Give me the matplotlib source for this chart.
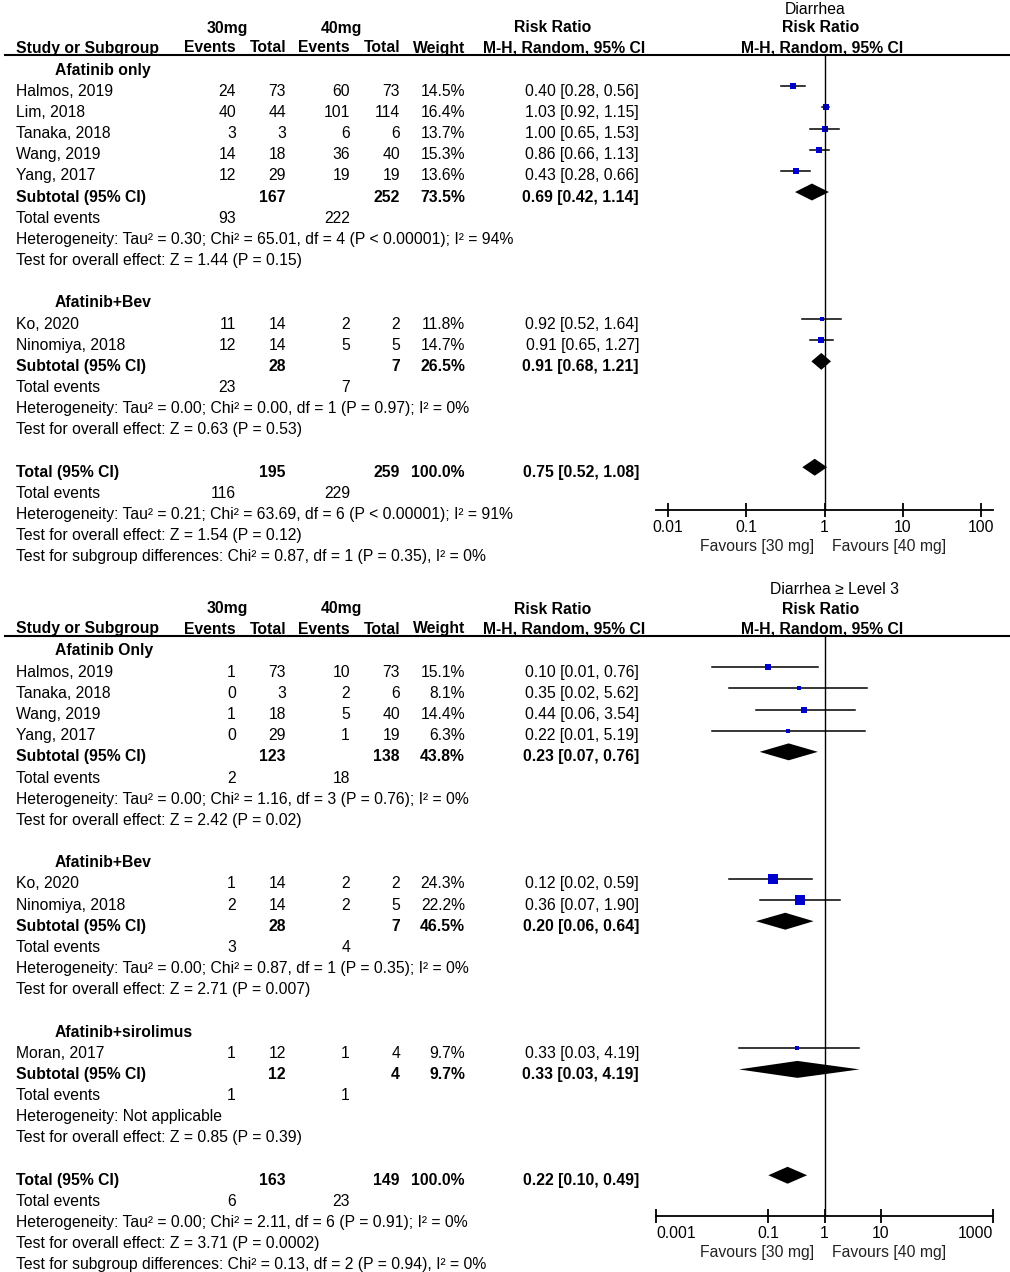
import matplotlib
matplotlib.use("Agg")
import matplotlib.pyplot as plt
from matplotlib.ticker import FixedLocator, NullLocator

plt.rcParams["font.family"] = ["Liberation Sans", "DejaVu Sans"]
plt.rcParams["font.size"] = 11.35

W, H = 1010, 1272
ROW = 21.17
BLUE = "#0000cc"

# Diarrhea (all grades)
d1_title = "Diarrhea"
d1_groups = ["Afatinib only", "Afatinib+Bev"]
d1_study = ["Halmos, 2019", "Lim, 2018", "Tanaka, 2018", "Wang, 2019", "Yang, 2017",
            "Ko, 2020", "Ninomiya, 2018"]
d1_group = [0, 0, 0, 0, 0, 1, 1]
d1_ev30 = [24, 40, 3, 14, 12, 11, 12]
d1_n30 = [73, 44, 3, 18, 29, 14, 14]
d1_ev40 = [60, 101, 6, 36, 19, 2, 5]
d1_n40 = [73, 114, 6, 40, 19, 2, 5]
d1_weight = [14.5, 16.4, 13.7, 15.3, 13.6, 11.8, 14.7]
d1_rr = [0.40, 1.03, 1.00, 0.86, 0.43, 0.92, 0.91]
d1_lo = [0.28, 0.92, 0.65, 0.66, 0.28, 0.52, 0.65]
d1_hi = [0.56, 1.15, 1.53, 1.13, 0.66, 1.64, 1.27]
d1_sub_n30 = [167, 28]
d1_sub_n40 = [252, 7]
d1_sub_w = [73.5, 26.5]
d1_sub_rr = [0.69, 0.91]
d1_sub_lo = [0.42, 0.68]
d1_sub_hi = [1.14, 1.21]
d1_sub_ev30 = [93, 23]
d1_sub_ev40 = [222, 7]
d1_sub_het = ["Heterogeneity: Tau² = 0.30; Chi² = 65.01, df = 4 (P < 0.00001); I² = 94%",
              "Heterogeneity: Tau² = 0.00; Chi² = 0.00, df = 1 (P = 0.97); I² = 0%"]
d1_sub_z = ["Test for overall effect: Z = 1.44 (P = 0.15)",
            "Test for overall effect: Z = 0.63 (P = 0.53)"]
d1_tot = [195, 259, 0.75, 0.52, 1.08, 116, 229]
d1_tot_text = ["Heterogeneity: Tau² = 0.21; Chi² = 63.69, df = 6 (P < 0.00001); I² = 91%",
               "Test for overall effect: Z = 1.54 (P = 0.12)",
               "Test for subgroup differences: Chi² = 0.87, df = 1 (P = 0.35), I² = 0%"]
d1_ticks = [0.01, 0.1, 1, 10, 100]
d1_ticklabels = ["0.01", "0.1", "1", "10", "100"]

# Diarrhea >= level 3
d2_title = "Diarrhea ≥ Level 3"
d2_groups = ["Afatinib Only", "Afatinib+Bev", "Afatinib+sirolimus"]
d2_study = ["Halmos, 2019", "Tanaka, 2018", "Wang, 2019", "Yang, 2017",
            "Ko, 2020", "Ninomiya, 2018", "Moran, 2017"]
d2_group = [0, 0, 0, 0, 1, 1, 2]
d2_ev30 = [1, 0, 1, 0, 1, 2, 1]
d2_n30 = [73, 3, 18, 29, 14, 14, 12]
d2_ev40 = [10, 2, 5, 1, 2, 2, 1]
d2_n40 = [73, 6, 40, 19, 2, 5, 4]
d2_weight = [15.1, 8.1, 14.4, 6.3, 24.3, 22.2, 9.7]
d2_rr = [0.10, 0.35, 0.44, 0.22, 0.12, 0.36, 0.33]
d2_lo = [0.01, 0.02, 0.06, 0.01, 0.02, 0.07, 0.03]
d2_hi = [0.76, 5.62, 3.54, 5.19, 0.59, 1.90, 4.19]
d2_sub_n30 = [123, 28, 12]
d2_sub_n40 = [138, 7, 4]
d2_sub_w = [43.8, 46.5, 9.7]
d2_sub_rr = [0.23, 0.20, 0.33]
d2_sub_lo = [0.07, 0.06, 0.03]
d2_sub_hi = [0.76, 0.64, 4.19]
d2_sub_ev30 = [2, 3, 1]
d2_sub_ev40 = [18, 4, 1]
d2_sub_het = ["Heterogeneity: Tau² = 0.00; Chi² = 1.16, df = 3 (P = 0.76); I² = 0%",
              "Heterogeneity: Tau² = 0.00; Chi² = 0.87, df = 1 (P = 0.35); I² = 0%",
              "Heterogeneity: Not applicable"]
d2_sub_z = ["Test for overall effect: Z = 2.42 (P = 0.02)",
            "Test for overall effect: Z = 2.71 (P = 0.007)",
            "Test for overall effect: Z = 0.85 (P = 0.39)"]
d2_tot = [163, 149, 0.22, 0.10, 0.49, 6, 23]
d2_tot_text = ["Heterogeneity: Tau² = 0.00; Chi² = 2.11, df = 6 (P = 0.91); I² = 0%",
               "Test for overall effect: Z = 3.71 (P = 0.0002)",
               "Test for subgroup differences: Chi² = 0.13, df = 2 (P = 0.94), I² = 0%"]
d2_ticks = [0.001, 0.1, 1, 10, 1000]
d2_ticklabels = ["0.001", "0.1", "1", "10", "1000"]

# column anchors (pixels)
X_NAME, X_GROUP = 16, 55
X_EV30, X_N30, X_EV40, X_N40, X_W, X_RR = 236, 286, 350, 400, 465, 639
X_PL, X_PR, X_ONE = 656, 993, 824


def ci_text(rr, lo, hi):
    return f"{rr:.2f} [{lo:.2f}, {hi:.2f}]"


def draw_panel(fig, tab, p):
    line_y, y0, axis_y = p["line_y"], p["y0"], p["axis_y"]

    def put(x, yc, s, ha="left", bold=False, **kw):
        tab.text(x, yc + 5.5, s, ha=ha, va="baseline",
                 fontweight="bold" if bold else "normal", **kw)

    # en-têtes
    put(834 if p["shift"] else 815, line_y - 47, p["title"], ha="center")
    put(227, line_y - 28, "30mg", ha="center", bold=True)
    put(341, line_y - 28, "40mg", ha="center", bold=True)
    put(553, line_y - 28, "Risk Ratio", ha="center", bold=True)
    put(821, line_y - 28, "Risk Ratio", ha="center", bold=True)
    put(X_NAME, line_y - 8, "Study or Subgroup", bold=True)
    for x, s in [(X_EV30, "Events"), (X_N30, "Total"), (X_EV40, "Events"),
                 (X_N40, "Total"), (X_W, "Weight")]:
        put(x, line_y - 8, s, ha="right", bold=True)
    put(645, line_y - 8, "M-H, Random, 95% CI", ha="right", bold=True)
    put(822, line_y - 8, "M-H, Random, 95% CI", ha="center", bold=True)
    tab.plot([5, W], [line_y, line_y], color="black", lw=1.5)

    # forest axes
    ax = fig.add_axes([X_PL / W, 1 - axis_y / H, (X_PR - X_PL) / W, (axis_y - line_y) / H])
    ax.set_xscale("log")
    ax.set_xlim(p["xlim"])
    yf0 = y0 - 4
    ax.set_ylim((axis_y - yf0) / ROW, (line_y - yf0) / ROW)

    def diamond(r, rr, lo, hi):
        ax.fill([lo, rr, hi, rr], [r, r - 0.4, r, r + 0.4], color="black", lw=0)

    r = 0
    for g, gname in enumerate(p["groups"]):
        put(X_GROUP, y0 + ROW * r, gname, bold=True)
        r += 1
        for i in [k for k, gg in enumerate(p["group"]) if gg == g]:
            yc = y0 + ROW * r
            put(X_NAME, yc, p["study"][i])
            put(X_EV30, yc, str(p["ev30"][i]), ha="right")
            put(X_N30, yc, str(p["n30"][i]), ha="right")
            put(X_EV40, yc, str(p["ev40"][i]), ha="right")
            put(X_N40, yc, str(p["n40"][i]), ha="right")
            put(X_W, yc, f"{p['weight'][i]:.1f}%", ha="right")
            put(X_RR, yc, ci_text(p["rr"][i], p["lo"][i], p["hi"][i]), ha="right")
            ax.plot([p["lo"][i], p["hi"][i]], [r, r], color="black", lw=1.1)
            ax.plot(p["rr"][i], r, marker="s", color=BLUE, mew=0,
                    ms=max(0.42 * p["weight"][i], 3.2) * 0.72)
            r += 1
        yc = y0 + ROW * r
        put(X_NAME, yc, "Subtotal (95% CI)", bold=True)
        put(X_N30, yc, str(p["sub_n30"][g]), ha="right", bold=True)
        put(X_N40, yc, str(p["sub_n40"][g]), ha="right", bold=True)
        put(X_W, yc, f"{p['sub_w'][g]:.1f}%", ha="right", bold=True)
        put(X_RR, yc, ci_text(p["sub_rr"][g], p["sub_lo"][g], p["sub_hi"][g]), ha="right", bold=True)
        diamond(r, p["sub_rr"][g], p["sub_lo"][g], p["sub_hi"][g])
        r += 1
        yc = y0 + ROW * r
        put(X_NAME, yc, "Total events")
        put(X_EV30, yc, str(p["sub_ev30"][g]), ha="right")
        put(X_EV40, yc, str(p["sub_ev40"][g]), ha="right")
        put(X_NAME, yc + ROW, p["sub_het"][g])
        put(X_NAME, yc + 2 * ROW, p["sub_z"][g])
        r += 4

    n30, n40, rr, lo, hi, e30, e40 = p["tot"]
    yc = y0 + ROW * r
    put(X_NAME, yc, "Total (95% CI)", bold=True)
    put(X_N30, yc, str(n30), ha="right", bold=True)
    put(X_N40, yc, str(n40), ha="right", bold=True)
    put(X_W, yc, "100.0%", ha="right", bold=True)
    put(X_RR, yc, ci_text(rr, lo, hi), ha="right", bold=True)
    diamond(r, rr, lo, hi)
    put(X_NAME, yc + ROW, "Total events")
    put(X_EV30, yc + ROW, str(e30), ha="right")
    put(X_EV40, yc + ROW, str(e40), ha="right")
    for k, s in enumerate(p["tot_text"]):
        put(X_NAME, yc + ROW * (k + 2), s)

    # axis styling
    ax.axvline(1, color="black", lw=1.0)
    for side in ["top", "left", "right"]:
        ax.spines[side].set_visible(False)
    ax.spines["bottom"].set_linewidth(1.3)
    ax.set_yticks([])
    ax.xaxis.set_major_locator(FixedLocator(p["ticks"]))
    ax.xaxis.set_minor_locator(NullLocator())
    ax.set_xticklabels(p["ticklabels"])
    ax.tick_params(axis="x", direction="inout", length=10, width=1.3, labelsize=11.35, pad=2)
    if p["shift"]:
        labels = ax.get_xticklabels()
        labels[0].set_ha("left")
        labels[-1].set_ha("right")
    ax.patch.set_alpha(0)
    put(X_ONE - 10, axis_y + 35, "Favours [30 mg]", ha="right", color="#222222")
    put(X_ONE + 8, axis_y + 35, "Favours [40 mg]", ha="left", color="#222222")


fig = plt.figure(figsize=(W / 100, H / 100), dpi=100)
tab = fig.add_axes([0, 0, 1, 1])
tab.set_xlim(0, W)
tab.set_ylim(H, 0)
tab.axis("off")

panel1 = dict(title=d1_title, groups=d1_groups, study=d1_study, group=d1_group,
              ev30=d1_ev30, n30=d1_n30, ev40=d1_ev40, n40=d1_n40, weight=d1_weight,
              rr=d1_rr, lo=d1_lo, hi=d1_hi, sub_n30=d1_sub_n30, sub_n40=d1_sub_n40,
              sub_w=d1_sub_w, sub_rr=d1_sub_rr, sub_lo=d1_sub_lo, sub_hi=d1_sub_hi,
              sub_ev30=d1_sub_ev30, sub_ev40=d1_sub_ev40, sub_het=d1_sub_het,
              sub_z=d1_sub_z, tot=d1_tot, tot_text=d1_tot_text,
              ticks=d1_ticks, ticklabels=d1_ticklabels,
              xlim=(10 ** -2.154, 10 ** 2.154), line_y=55, y0=69, axis_y=510, shift=False)
panel2 = dict(title=d2_title, groups=d2_groups, study=d2_study, group=d2_group,
              ev30=d2_ev30, n30=d2_n30, ev40=d2_ev40, n40=d2_n40, weight=d2_weight,
              rr=d2_rr, lo=d2_lo, hi=d2_hi, sub_n30=d2_sub_n30, sub_n40=d2_sub_n40,
              sub_w=d2_sub_w, sub_rr=d2_sub_rr, sub_lo=d2_sub_lo, sub_hi=d2_sub_hi,
              sub_ev30=d2_sub_ev30, sub_ev40=d2_sub_ev40, sub_het=d2_sub_het,
              sub_z=d2_sub_z, tot=d2_tot, tot_text=d2_tot_text,
              ticks=d2_ticks, ticklabels=d2_ticklabels,
              xlim=(0.001, 1000), line_y=636, y0=650, axis_y=1216, shift=True)

draw_panel(fig, tab, panel1)
draw_panel(fig, tab, panel2)

fig.savefig("out.png", dpi=100)
